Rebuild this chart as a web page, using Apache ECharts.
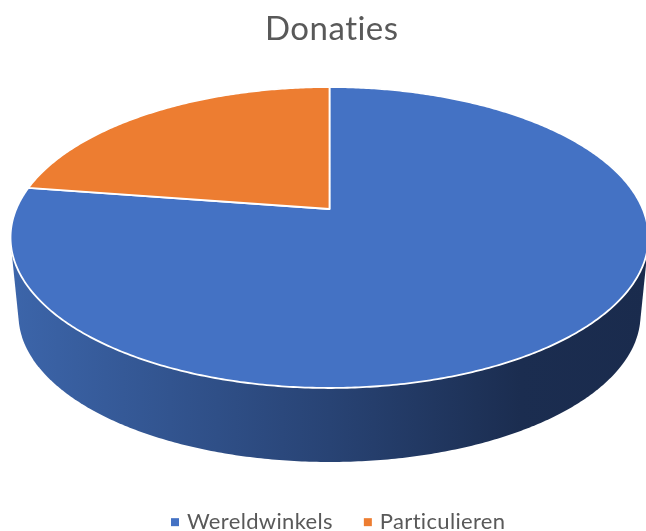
<!DOCTYPE html>
<html>
<head>
<meta charset="utf-8">
<style>html,body{margin:0;padding:0;background:#fff}#c{width:646px;height:531px}</style>
<script src="https://cdn.jsdelivr.net/npm/echarts@6/dist/echarts.min.js"></script>
</head>
<body>
<div id="c"></div>
<script>
const categories = ['Wereldwinkels', 'Particulieren'];
const values = [77.4, 22.6];
const colors = ['#4472C4', '#ED7D31'];
const titleText = 'Donaties';

// slight tracking on canvas text: matches the reference's spacing and avoids the "ti" ligature
['fillText', 'measureText'].forEach(function (m) {
  const orig = CanvasRenderingContext2D.prototype[m];
  CanvasRenderingContext2D.prototype[m] = function () {
    const size = parseFloat((/(\d+(\.\d+)?)px/.exec(this.font) || [0, 12])[1]);
    this.letterSpacing = (size * 0.015).toFixed(2) + 'px';
    return orig.apply(this, arguments);
  };
});

const total = values.reduce((a, b) => a + b, 0);
function sliceAngles(i) {
  let s = 0;
  for (let k = 0; k < i; k++) s += values[k];
  return [s / total * Math.PI * 2, (s + values[i]) / total * Math.PI * 2];
}
// perspective projection of the disc
const view = { x0: 329.5, y0: 209, A: 313.2, H: 145.1, k: 0.1893 };
const ellipse = { cy: 237.5, by: 315, sx: 0.975, sy: 147 / 150.5 };
function topPoint(a) {
  const u = Math.sin(a), v = Math.cos(a), w = 1 + view.k * v;
  return [view.x0 + view.A * u / w, view.y0 - view.H * v / w];
}
function bottomPoint(a) {
  const p = topPoint(a);
  return [view.x0 + (p[0] - view.x0) * ellipse.sx, ellipse.by + (p[1] - ellipse.cy) * ellipse.sy];
}
function arc(fn, a0, a1) {
  const n = Math.max(2, Math.ceil((a1 - a0) / 0.01)), pts = [];
  for (let i = 0; i <= n; i++) pts.push(fn(a0 + (a1 - a0) * i / n));
  return pts;
}
function convexHull(points) {
  const p = points.slice().sort((a, b) => a[0] - b[0] || a[1] - b[1]);
  const cross = (o, a, b) => (a[0] - o[0]) * (b[1] - o[1]) - (a[1] - o[1]) * (b[0] - o[0]);
  const build = list => {
    const h = [];
    for (const q of list) {
      while (h.length >= 2 && cross(h[h.length - 2], h[h.length - 1], q) <= 0) h.pop();
      h.push(q);
    }
    h.pop();
    return h;
  };
  return build(p).concat(build(p.reverse()));
}
const wallStops = [
  { offset: 0, color: '#3C65AA' },
  { offset: 0.5, color: '#284374' },
  { offset: 0.8, color: '#1B2D50' },
  { offset: 1, color: '#1A2B4D' }
];
function renderWall(params) {
  const [a0, a1] = sliceAngles(params.dataIndex);
  const pts = convexHull(arc(topPoint, a0, a1).concat(arc(bottomPoint, a0, a1)));
  const grad = new echarts.graphic.LinearGradient(11, 0, 648, 0, wallStops, true);
  return { type: 'polygon', silent: true, shape: { points: pts }, style: { fill: grad, stroke: null } };
}
function renderFace(i) {
  return function (params, api) {
    const [a0, a1] = sliceAngles(i);
    const pts = [[view.x0, view.y0]].concat(arc(topPoint, a0, a1));
    return {
      type: 'polygon',
      shape: { points: pts },
      style: { fill: api.visual('color'), stroke: '#fff', lineWidth: 1.8, lineJoin: 'round' }
    };
  };
}
const chart = echarts.init(document.getElementById('c'), null, { renderer: 'canvas' });
chart.setOption({
  animation: false,
  backgroundColor: '#fff',
  title: {
    text: titleText, left: 260, top: 8,
    textStyle: { fontFamily: 'Lato', fontWeight: 'normal', fontSize: 33, color: '#595959' }
  },
  legend: {
    data: categories, left: 171, top: 511, padding: 0, icon: 'rect', itemWidth: 8, itemHeight: 8, itemGap: 31,
    textStyle: { fontFamily: 'Lato', fontSize: 22, color: '#595959', padding: [0, 0, 0, 3] }
  },
  tooltip: { show: false },
  series: [
    { type: 'custom', name: 'Zijkant', coordinateSystem: 'none', z: 1, silent: true,
      data: values.map(v => [v]), renderItem: renderWall },
    ...categories.map((name, i) => ({
      type: 'custom', name, coordinateSystem: 'none', z: 2,
      itemStyle: { color: colors[i] },
      data: [[values[i]]], renderItem: renderFace(i)
    }))
  ]
});
</script>
</body>
</html>
